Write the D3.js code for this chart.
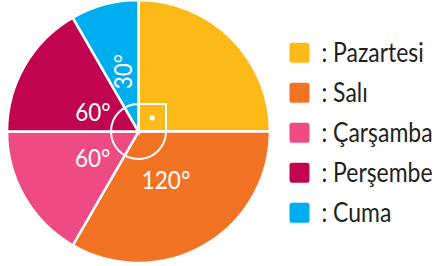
<!DOCTYPE html>
<html><head><meta charset="utf-8">
<script src="https://cdn.jsdelivr.net/npm/d3@7"></script>
<style>html,body{margin:0;padding:0;background:#fff;}svg{display:block;}</style>
</head><body>
<svg id="chart" width="438" height="266"></svg>
<script>
const categories = ["Pazartesi", "Salı", "Çarşamba", "Perşembe", "Cuma"];
const degrees = [90, 120, 60, 60, 30];
const colors = ["#FBBA17", "#F37324", "#EE4A83", "#C0044F", "#00AEEF"];
const angleLabels = ["", "120°", "60°", "60°", "30°"];

const svg = d3.select("#chart");
const cx = 138.5, cy = 131.5, R = 131.5;
const g = svg.append("g").attr("transform", `translate(${cx},${cy})`);

const pie = d3.pie().sort(null).value(d => d).startAngle(0).endAngle(2 * Math.PI);
const arcs = pie(degrees);
const arc = d3.arc().innerRadius(0).outerRadius(R);

g.selectAll("path.slice").data(arcs).join("path")
  .attr("class", "slice")
  .attr("d", arc)
  .attr("fill", (d, i) => colors[i])
  .attr("stroke", "#fff")
  .attr("stroke-width", 2.5)
  .attr("stroke-linejoin", "miter");

// angle marker
const rm = 27.5;
const markerArc = d3.arc().innerRadius(rm).outerRadius(rm);
g.append("path")
  .attr("d", markerArc({startAngle: arcs[0].endAngle, endAngle: 2 * Math.PI}))
  .attr("fill", "none").attr("stroke", "#fff").attr("stroke-width", 2);
g.append("rect")
  .attr("x", 0).attr("y", -rm).attr("width", rm).attr("height", rm)
  .attr("fill", "none").attr("stroke", "#fff").attr("stroke-width", 2);
g.append("circle").attr("cx", rm / 2).attr("cy", -rm / 2).attr("r", 2.6).attr("fill", "#fff");

// degree labels
const labelR = [0, 55, 53, 50, 62];
const labelShift = [0, 0, 0, -6, 0];
arcs.forEach((d, i) => {
  if (!angleLabels[i]) return;
  const a = (d.startAngle + d.endAngle) / 2 + labelShift[i] * Math.PI / 180;
  const x = labelR[i] * Math.sin(a), y = -labelR[i] * Math.cos(a);
  const rot = i === 4 ? -90 : 0;
  g.append("text")
    .attr("transform", `translate(${x},${y}) rotate(${rot}) scale(0.9,1)`)
    .attr("text-anchor", "middle")
    .attr("dominant-baseline", "central")
    .attr("fill", "#fff")
    .attr("font-family", "Lato, sans-serif")
    .attr("font-size", 25)
    .text(angleLabels[i]);
});

// legend
const legend = svg.append("g").attr("transform", "translate(289.5,42.7)");
const rowH = 40;
const rows = legend.selectAll("g").data(categories).join("g")
  .attr("transform", (d, i) => `translate(0,${i * rowH})`);
rows.append("rect").attr("width", 20).attr("height", 20).attr("rx", 2.5)
  .attr("fill", (d, i) => colors[i]);
rows.append("text")
  .attr("transform", "translate(32,19.5) scale(0.85,1)")
  .attr("font-family", "Lato, sans-serif").attr("font-size", 27)
  .attr("fill", "#231F20")
  .text(d => ": " + d);
</script>
</body></html>
